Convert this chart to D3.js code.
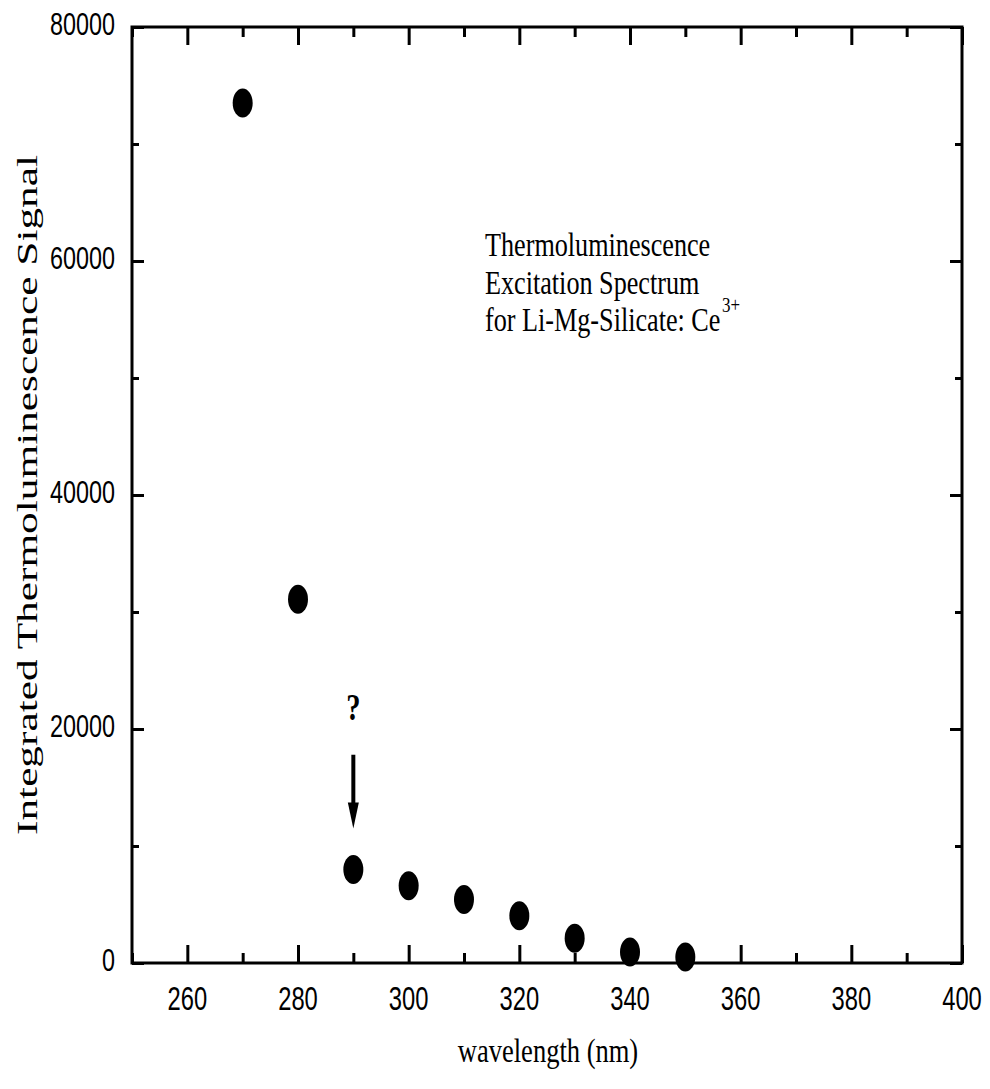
<!DOCTYPE html>
<html>
<head>
<meta charset="utf-8">
<script src="https://cdn.jsdelivr.net/npm/d3@7/dist/d3.min.js"></script>
<style>
  html, body { margin: 0; padding: 0; background: #fff; }
  svg { display: block; }
</style>
</head>
<body>
<svg id="chart" width="990" height="1089"></svg>
<script>
// ---- data ----
const wavelengths = [270, 280, 290, 300, 310, 320, 330, 340, 350];
const signal      = [73500, 31100, 8000, 6600, 5430, 4030, 2110, 940, 510];
const xTickLabels = [260, 280, 300, 320, 340, 360, 380, 400];
const xMinorTicks = [250, 270, 290, 310, 330, 350, 370, 390];
const yTickLabels = [0, 20000, 40000, 60000, 80000];
const yMinorTicks = [10000, 30000, 50000, 70000];
const annotationLines = ["Thermoluminescence", "Excitation Spectrum", "for Li-Mg-Silicate: Ce"];
const annotationSup = "3+";
const arrowAt = { wavelength: 290, from: 17800, to: 11500, mark: "?", markAt: 20800 };
const xTitle = "wavelength (nm)";
const yTitle = "Integrated Thermoluminescence Signal";

// ---- layout ----
const L = 132, R = 962, T = 27, B = 963;
const svg = d3.select("#chart");
const x = d3.scaleLinear().domain([250, 400]).range([L, R]);
const y = d3.scaleLinear().domain([0, 80000]).range([B, T]);

const SANS = "'Liberation Sans', Arial, sans-serif";
const SERIF = "'Liberation Serif', 'Times New Roman', serif";

function label(g, str, px, py, size, sx, anchor, family, weight) {
  return g.append("text")
    .attr("transform", `translate(${px},${py}) scale(${sx},1)`)
    .attr("text-anchor", anchor)
    .attr("font-family", family)
    .attr("font-size", size)
    .attr("font-weight", weight || "normal")
    .attr("fill", "#000")
    .text(str);
}

// ---- ticks (inward on all four sides) ----
function styleAxis(g) {
  g.select(".domain").remove();
  g.selectAll(".tick line").attr("stroke", "#000").attr("stroke-width", 3);
  g.selectAll(".tick text").remove();
}
const axes = svg.append("g");
axes.append("g").attr("transform", `translate(0,${B})`)
  .call(d3.axisBottom(x).tickValues(xTickLabels).tickSize(-18).tickFormat("")).call(styleAxis);
axes.append("g").attr("transform", `translate(0,${B})`)
  .call(d3.axisBottom(x).tickValues(xMinorTicks).tickSize(-10).tickFormat("")).call(styleAxis);
axes.append("g").attr("transform", `translate(0,${T})`)
  .call(d3.axisTop(x).tickValues(xTickLabels).tickSize(-18).tickFormat("")).call(styleAxis);
axes.append("g").attr("transform", `translate(0,${T})`)
  .call(d3.axisTop(x).tickValues(xMinorTicks).tickSize(-10).tickFormat("")).call(styleAxis);
axes.append("g").attr("transform", `translate(${L},0)`)
  .call(d3.axisLeft(y).tickValues(yTickLabels).tickSize(-12).tickFormat("")).call(styleAxis);
axes.append("g").attr("transform", `translate(${L},0)`)
  .call(d3.axisLeft(y).tickValues(yMinorTicks).tickSize(-7).tickFormat("")).call(styleAxis);
axes.append("g").attr("transform", `translate(${R},0)`)
  .call(d3.axisRight(y).tickValues(yTickLabels).tickSize(-12).tickFormat("")).call(styleAxis);
axes.append("g").attr("transform", `translate(${R},0)`)
  .call(d3.axisRight(y).tickValues(yMinorTicks).tickSize(-7).tickFormat("")).call(styleAxis);

// ---- data points ----
const pts = wavelengths.map((w, i) => ({ w, v: signal[i] }));
svg.append("g").selectAll("ellipse").data(pts).join("ellipse")
  .attr("cx", d => x(d.w))
  .attr("cy", d => y(d.v))
  .attr("rx", 10)
  .attr("ry", 14.5)
  .attr("fill", "#000");

// ---- frame ----
svg.append("rect")
  .attr("x", L).attr("y", T)
  .attr("width", R - L).attr("height", B - T)
  .attr("fill", "none").attr("stroke", "#000").attr("stroke-width", 3);

// ---- tick labels ----
const tl = svg.append("g");
xTickLabels.forEach(v => label(tl, String(v), x(v), 1010, 33, 0.72, "middle", SANS));
yTickLabels.forEach(v => label(tl, String(v), 115, y(v) + 8, 32, 0.73, "end", SANS));

// ---- axis titles ----
label(svg, xTitle, (L + R) / 2 + 1, 1062, 34, 0.78, "middle", SERIF);
svg.append("text")
  .attr("transform", `translate(37,495) rotate(-90) scale(1,0.78)`)
  .attr("text-anchor", "middle")
  .attr("font-family", SERIF)
  .attr("font-size", 38)
  .attr("textLength", 680)
  .attr("lengthAdjust", "spacingAndGlyphs")
  .attr("fill", "#000")
  .text(yTitle);

// ---- annotation ----
const ann = svg.append("g");
const lineBase = [256, 294, 331];
annotationLines.forEach((s, i) => {
  const t = label(ann, s, 485, lineBase[i], 34, 0.77, "start", SERIF);
  if (i === annotationLines.length - 1) {
    t.append("tspan").attr("font-size", 22).attr("dy", -19).attr("dx", 2).text(annotationSup);
  }
});

// ---- arrow with question mark ----
const ax = x(arrowAt.wavelength);
const y0 = y(arrowAt.from), y1 = y(arrowAt.to);
svg.append("line")
  .attr("x1", ax).attr("x2", ax)
  .attr("y1", y0).attr("y2", y1 - 22)
  .attr("stroke", "#000").attr("stroke-width", 4);
svg.append("path")
  .attr("d", d3.line()([[ax - 5.5, y1 - 26], [ax + 5.5, y1 - 26], [ax, y1]]) + "Z")
  .attr("fill", "#000");
label(svg, arrowAt.mark, ax, y(arrowAt.markAt), 38, 0.75, "middle", SERIF, "bold");
</script>
</body>
</html>
